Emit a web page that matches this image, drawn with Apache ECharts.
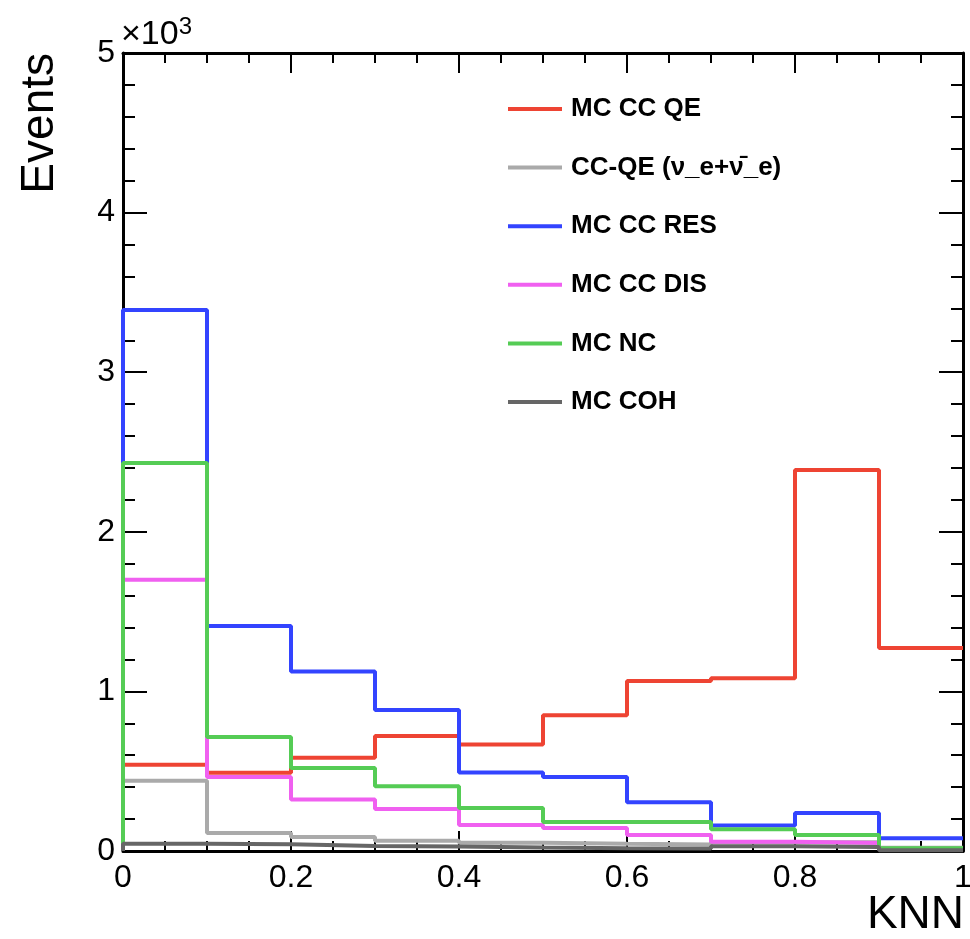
<!DOCTYPE html>
<html>
<head>
<meta charset="utf-8">
<script src="https://cdn.jsdelivr.net/npm/echarts@6/dist/echarts.min.js"></script>
<style>
html,body{margin:0;padding:0;background:#fff;}
#chart{width:970px;height:939px;}
</style>
</head>
<body>
<div id="chart"></div>
<script>
// Bin edges of the KNN histogram
const binEdges = [0, 0.1, 0.2, 0.3, 0.4, 0.5, 0.6, 0.7, 0.8, 0.9, 1.0];
// Events per bin
const mcCCQE   = [540, 490, 585, 720, 668, 850, 1065, 1082, 2387, 1272];
const ccqeNuE  = [440, 113, 88, 65, 52, 45, 40, 55, 55, 20];
const mcCCRES  = [3390, 1410, 1125, 883, 492, 464, 305, 160, 238, 80];
const mcCCDIS  = [1700, 464, 322, 263, 163, 144, 100, 58, 50, 10];
const mcNC     = [2431, 714, 520, 405, 269, 182, 182, 136, 100, 18];
const mcCOH    = [45, 42, 32, 28, 22, 18, 15, 30, 25, 5];
const seriesNames = ['MC CC QE', 'CC-QE (\u03bd_e+\u03bd\u0304_e)', 'MC CC RES', 'MC CC DIS', 'MC NC', 'MC COH'];
const yTickLabels = ['0', '1', '2', '3', '4', '5'];

const colors = ['#ee4433', '#aaaaaa', '#3344ff', '#f060f0', '#55cc55', '#666666'];
const allValues = [mcCCQE, ccqeNuE, mcCCRES, mcCCDIS, mcNC, mcCOH];

function histData(vals) {
  const d = [[binEdges[0], 0]];
  for (let i = 0; i < vals.length; i++) d.push([binEdges[i], vals[i]]);
  d.push([binEdges[binEdges.length - 1], vals[vals.length - 1]]);
  return d;
}

const FONT = '"Liberation Sans", Arial, Helvetica, sans-serif';
const chart = echarts.init(document.getElementById('chart'), null, {renderer: 'canvas'});

const axisCommonX = {
  type: 'value', min: 0, max: 1, interval: 0.2,
  axisLine: {show: true, onZero: false, lineStyle: {color: '#000', width: 3}},
  axisTick: {show: true, inside: true, length: 20, lineStyle: {color: '#000', width: 2}},
  minorTick: {show: true, splitNumber: 4, length: 10, lineStyle: {color: '#000', width: 2}},
  splitLine: {show: false}
};
const axisCommonY = {
  type: 'value', min: 0, max: 5000, interval: 1000,
  axisLine: {show: true, onZero: false, lineStyle: {color: '#000', width: 3}},
  axisTick: {show: true, inside: true, length: 24, lineStyle: {color: '#000', width: 2}},
  minorTick: {show: true, splitNumber: 5, length: 12, lineStyle: {color: '#000', width: 2}},
  splitLine: {show: false}
};

chart.setOption({
  animation: false,
  backgroundColor: '#fff',
  grid: {left: 123, right: 7, top: 53, bottom: 88, containLabel: false, outerBoundsMode: 'none'},
  xAxis: [
    Object.assign({}, axisCommonX, {
      position: 'bottom',
      axisLabel: {show: true, margin: 11, color: '#000', fontSize: 32, fontFamily: FONT,
        formatter: v => String(Math.round(v * 10) / 10)}
    }),
    Object.assign({}, axisCommonX, {position: 'top', axisLabel: {show: false}})
  ],
  yAxis: [
    Object.assign({}, axisCommonY, {
      position: 'left',
      axisLabel: {show: true, margin: 8, color: '#000', fontSize: 32, fontFamily: FONT,
        formatter: v => yTickLabels[Math.round(v / 1000)]}
    }),
    Object.assign({}, axisCommonY, {position: 'right', axisLabel: {show: false}})
  ],
  legend: {
    show: true,
    orient: 'vertical',
    left: 503, top: 91,
    icon: 'rect',
    itemWidth: 54, itemHeight: 4,
    itemGap: 32.6,
    data: seriesNames,
    selectedMode: false,
    textStyle: {color: '#000', fontSize: 26, fontWeight: 'bold', fontFamily: FONT, lineHeight: 26, padding: [0, 0, 0, 4]}
  },
  graphic: [
    {type: 'text', left: 17, top: 53, rotation: Math.PI / 2,
      style: {text: 'Events', fontSize: 46, fontFamily: FONT, fill: '#000'}
    },
    {type: 'text', left: 121, top: 15,
      style: {rich: {a: {fontSize: 34, fontFamily: FONT, fill: '#000'},
                     s: {fontSize: 24, fontFamily: FONT, fill: '#000', verticalAlign: 'top', padding: [0, 0, 16, 0]}},
              text: '{a|\u00d710}{s|3}'}},
    {type: 'text', right: 6, top: 892,
      style: {text: 'KNN', fontSize: 46, fontFamily: FONT, fill: '#000'}}
  ],
  series: allValues.map((vals, i) => ({
    name: seriesNames[i],
    type: 'line',
    step: 'end',
    data: histData(vals),
    showSymbol: false,
    symbol: 'none',
    color: colors[i],
    itemStyle: {color: colors[i]},
    lineStyle: {color: colors[i], width: 4},
    emphasis: {disabled: true},
    silent: true,
    z: 2
  }))
});
</script>
</body>
</html>
